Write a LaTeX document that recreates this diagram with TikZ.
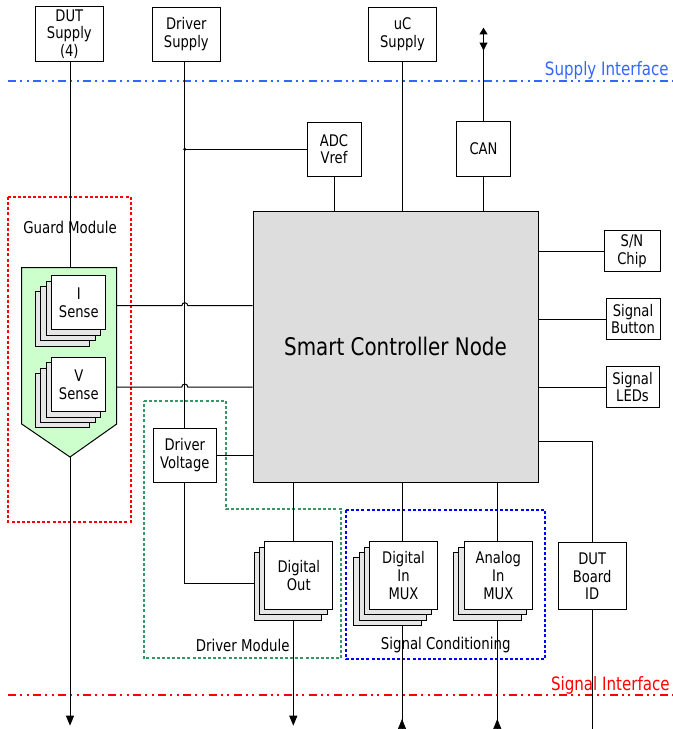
\documentclass[tikz,border=0pt]{standalone}
\usepackage{fontspec}
\setmainfont{DejaVu Sans}[FakeStretch=0.82]
\usetikzlibrary{arrows.meta,calc}

\definecolor{supplyblue}{HTML}{3366FF}
\definecolor{signalred}{HTML}{FF0000}
\definecolor{guardred}{HTML}{FF0000}
\definecolor{drivergreen}{HTML}{339966}
\definecolor{condblue}{HTML}{0000FF}
\definecolor{ctrlgray}{HTML}{DDDDDD}
\definecolor{shadowgray}{HTML}{E6E6E6}
\definecolor{guardgreen}{HTML}{CCFFCC}

\newcommand{\cardfont}{\fontsize{12}{13.2}\selectfont}
\newcommand{\bigfont}{\fontsize{18.2}{20}\selectfont}
\newcommand{\modfont}{\fontsize{12.2}{14}\selectfont}
\newcommand{\ifacefont}{\fontsize{13.8}{15}\selectfont}

% a stack of identical cards: name, x, y, width, height, cards behind, text
\newcommand{\cardstack}[7]{%
  \foreach \k in {#6,...,1}{%
    \node[cardback, sz={#4}{#5}] (#1-\k) at ({#2-5.33*\k},{#3+5.4*\k}) {};
  }%
  \node[card, sz={#4}{#5}] (#1) at (#2,#3) {#7};
}

\begin{document}
\begin{tikzpicture}[x=0.75pt,y=-0.75pt,
  wire/.style={line width=0.75pt, draw=black},
  card/.style={draw=black, fill=white, line width=0.75pt, inner sep=0pt, align=center, font=\cardfont},
  cardback/.style={draw=black, fill=shadowgray, line width=0.75pt, inner sep=0pt},
  sz/.style 2 args={minimum width=#1*0.75pt, minimum height=#2*0.75pt},
  region/.style={line width=1.4pt, dash pattern=on 2.25pt off 1.6pt},
  iface/.style={line width=1.5pt, dash pattern=on 6pt off 3pt on 1.5pt off 3.4pt on 1.5pt off 3.4pt},
  outarrow/.style={-{Triangle[length=7.5pt,width=6pt]}},
  modlabel/.style={font=\modfont, inner sep=0pt},
]
\useasboundingbox (0,0) rectangle (672,729);

% module outlines
\draw[region, guardred] (8.3,197) rectangle (130.7,522.3);
\draw[region, drivergreen] (144,400.7) -- (226,400.7) -- (226,509) -- (341.3,509)
  -- (341.3,658.3) -- (144,658.3) -- cycle;
\draw[region, condblue] (346,510) rectangle (545,659);

\node[modlabel] (guardlbl) at (70,227) {Guard Module};
\node[modlabel] (drvlbl) at (242.7,645.7) {Driver Module};
\node[modlabel] (condlbl) at (445.7,645) {Signal Conditioning};

% interface boundaries
\coordinate (supL) at (8,81);
\coordinate (supR) at (672,81);
\coordinate (sigL) at (8,695);
\coordinate (sigR) at (672,695);
\draw[iface, supplyblue] (supL) -- (supR);
\draw[iface, signalred] (sigL) -- (sigR);
\node[anchor=east, inner sep=0pt, font=\ifacefont, text=supplyblue] (suplbl) at (669,70) {Supply Interface};
\node[anchor=east, inner sep=0pt, font=\ifacefont, text=signalred] (siglbl) at (670,685) {Signal Interface};

% guard module body
\path[draw=black, fill=guardgreen, line width=0.75pt] (21.7,267.7) -- (116.7,267.7)
  -- (116.7,424) -- (70,457) -- (21.7,424) -- cycle;
\coordinate (guardtop) at (70,267.7);
\coordinate (guardtip) at (70,457);
\coordinate (guardout) at (70,725.7);

% supplies
\node[card, sz={68}{54.5}] (dutsup) at (69.3,34) {DUT\\Supply\\(4)};
\node[card, sz={68}{54}] (drvsup) at (186.3,34) {Driver\\Supply};
\node[card, sz={68.7}{54}] (ucsup) at (402.5,34) {uC\\Supply};
\node[card, sz={54}{54}] (adc) at (334,149.3) {ADC\\Vref};
\node[card, sz={54.4}{54.3}] (can) at (483.5,149) {CAN};

% controller
\node[card, fill=ctrlgray, sz={285}{271}, font=\bigfont] (ctrl) at (395.5,346.5) {Smart Controller Node};

% peripherals on the right
\node[card, sz={56}{40.7}] (sn) at (632,251.3) {S/N\\Chip};
\node[card, sz={54}{40.6}] (btn) at (633,319) {Signal\\Button};
\node[card, sz={53}{40.6}] (leds) at (632.5,387) {Signal\\LEDs};
\node[card, sz={67.7}{67.3}] (dutid) at (592.2,576.3) {DUT\\Board\\ID};

% driver
\node[card, sz={63}{54}] (drvv) at (184.8,455.3) {Driver\\Voltage};

% card stacks
\cardstack{isense}{78.8}{302.8}{54.3}{54.3}{3}{I\\Sense}
\cardstack{vsense}{78.8}{384.5}{54.3}{54.3}{3}{V\\Sense}
\cardstack{digout}{298.8}{575.5}{67.7}{67.6}{2}{Digital\\Out}
\cardstack{digin}{403.5}{575.5}{67.6}{67.6}{3}{Digital\\In\\MUX}
\cardstack{anain}{498.3}{575.5}{68}{67.6}{2}{Analog\\In\\MUX}

% supply wiring
\draw[wire] (guardtop |- dutsup.south) -- (guardtop);
\draw[wire, outarrow] (guardtip) -- (guardout);
\draw[wire] (drvsup.south -| drvv.north) -- (drvv.north);
\coordinate (jct) at (drvv.north |- adc.west);
\fill (jct) circle[radius=1.3pt];
\draw[wire] (jct) -- (adc.west);
\draw[wire] (adc.south) -- (adc.south |- ctrl.north);
\draw[wire] (ucsup.south) -- (ucsup.south |- ctrl.north);
\draw[wire] (can.south) -- (can.south |- ctrl.north);
\coordinate (canend) at (483.5,27.7);
\coordinate (canrx) at (483.5,50.5);
\draw[wire, -{Triangle[length=5pt,width=6pt]}] (can.north) -- (canend);
\draw[wire, -{Triangle[length=6pt,width=6pt]}] ([yshift=7pt]canrx) -- (canrx);

% peripheral wiring
\draw[wire] (sn.west) -- (sn.west -| ctrl.east);
\draw[wire] (btn.west) -- (btn.west -| ctrl.east);
\draw[wire] (leds.west) -- (leds.west -| ctrl.east);
\draw[wire] ([yshift=30.75pt]ctrl.south east) -| (dutid.north);
\coordinate (dutidout) at (592.2,729);
\draw[wire] (dutid.south) -- (dutidout);

% sense lines hop over the driver supply
\coordinate (iline) at (116.7,305.7);
\coordinate (vline) at (116.7,387);
\draw[wire] (iline) -- ($(iline -| drvv.north)+(-3,0)$)
  arc[start angle=180, end angle=0, radius=2.25pt] -- (iline -| ctrl.west);
\draw[wire] (vline) -- ($(vline -| drvv.north)+(-3,0)$)
  arc[start angle=180, end angle=0, radius=2.25pt] -- (vline -| ctrl.west);

% driver wiring
\draw[wire] (drvv.east) -- (drvv.east -| ctrl.west);
\draw[wire] (drvv.south) |- ([yshift=2.25pt]digout-2.west);
\coordinate (docol) at (293.3,725.7);
\draw[wire] (docol |- ctrl.south) -- (docol |- digout.north);
\draw[wire, outarrow] (docol |- digout-2.south) -- (docol);

% signal inputs
\coordinate (dicol) at (402,729);
\coordinate (ditip) at (402,719);
\draw[wire] (dicol |- ctrl.south) -- (dicol |- digin.north);
\draw[wire] (dicol |- digin-3.south) -- (dicol);
\draw[outarrow] (dicol) -- (ditip);
\coordinate (aicol) at (497.3,729);
\coordinate (aitip) at (497.3,719);
\draw[wire] (aicol |- ctrl.south) -- (aicol |- anain.north);
\draw[wire] (aicol |- anain-2.south) -- (aicol);
\draw[outarrow] (aicol) -- (aitip);
\end{tikzpicture}
\end{document}
